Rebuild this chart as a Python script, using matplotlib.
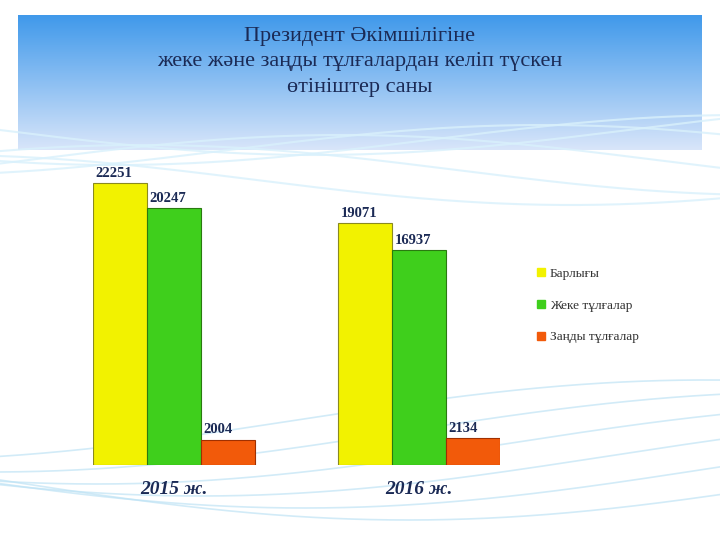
import numpy as np
import matplotlib
matplotlib.use("Agg")
import matplotlib.pyplot as plt

years = ["2015 ж.", "2016 ж."]
series = ["Барлығы", "Жеке тұлғалар", "Заңды тұлғалар"]
total = [22251, 19071]
individuals = [20247, 16937]
legal = [2004, 2134]
colors = ["#f2f200", "#3fcf1c", "#f25a0a"]

plt.rcParams['font.family'] = ['Liberation Serif', 'DejaVu Serif']
fig = plt.figure(figsize=(7.2, 5.4), dpi=100)

# background
bg = fig.add_axes([0, 0, 1, 1], zorder=-10)
bg.set_xlim(0, 720); bg.set_ylim(540, 0); bg.axis('off')
grad = np.linspace(0, 1, 200)[:, None]
bg.imshow(np.dstack([0.25 + 0.6*grad, 0.6 + 0.3*grad, 0.92 + 0.06*grad]) * np.ones((1, 2, 1)),
          extent=[18, 702, 150, 15], aspect='auto')
t = np.linspace(0, 720, 300)
for k in range(6):
    bg.plot(t, 540 - 60 - 12*k + 40*np.sin(t/260 + k*0.4), color="#bfe3f5", lw=1.2, alpha=0.7)
    bg.plot(t, 130 + 10*k + 25*np.sin(t/200 + k), color="#d9f1fc", lw=1.5, alpha=0.8)

fig.text(0.5, 0.95, "Президент Әкімшілігіне\nжеке және заңды тұлғалардан келіп түскен\nөтініштер саны",
         ha='center', va='top', fontsize=16, color="#1b2a55", linespacing=1.45)

ax = fig.add_axes([93/720, 75/540, 407/720, 315/540])
ax.set_xlim(-0.5, 7.04)
ax.set_ylim(0, 24855)
ax.axis('off')
offsets = [0, 4.54]
for gi, off in enumerate(offsets):
    vals = [total[gi], individuals[gi], legal[gi]]
    for si, v in enumerate(vals):
        ax.bar(off + si, v, width=1.0, color=colors[si], edgecolor="#8a8a20" if si == 0 else "#2a7a10" if si == 1 else "#a03000",
               linewidth=0.8, label=series[si] if gi == 0 else None)
        ax.text(off + si - 0.45, v + 250, str(v), ha='left', va='bottom', fontsize=10.5, fontweight='bold', color="#1b2a55")
    ax.text(off + 1, -1300, years[gi], ha='center', va='top', fontsize=14, fontweight='bold', style='italic', color="#1b2a55")

handles = [plt.Rectangle((0, 0), 1, 1, color=c) for c in colors]
fig.legend(handles, series, loc='upper left', bbox_to_anchor=(525/720, 1 - 256/540), frameon=False,
           fontsize=9.5, handlelength=0.6, handleheight=0.6, labelspacing=1.5, handletextpad=0.4,
           labelcolor="#333333")

fig.savefig("out.png", dpi=100)
